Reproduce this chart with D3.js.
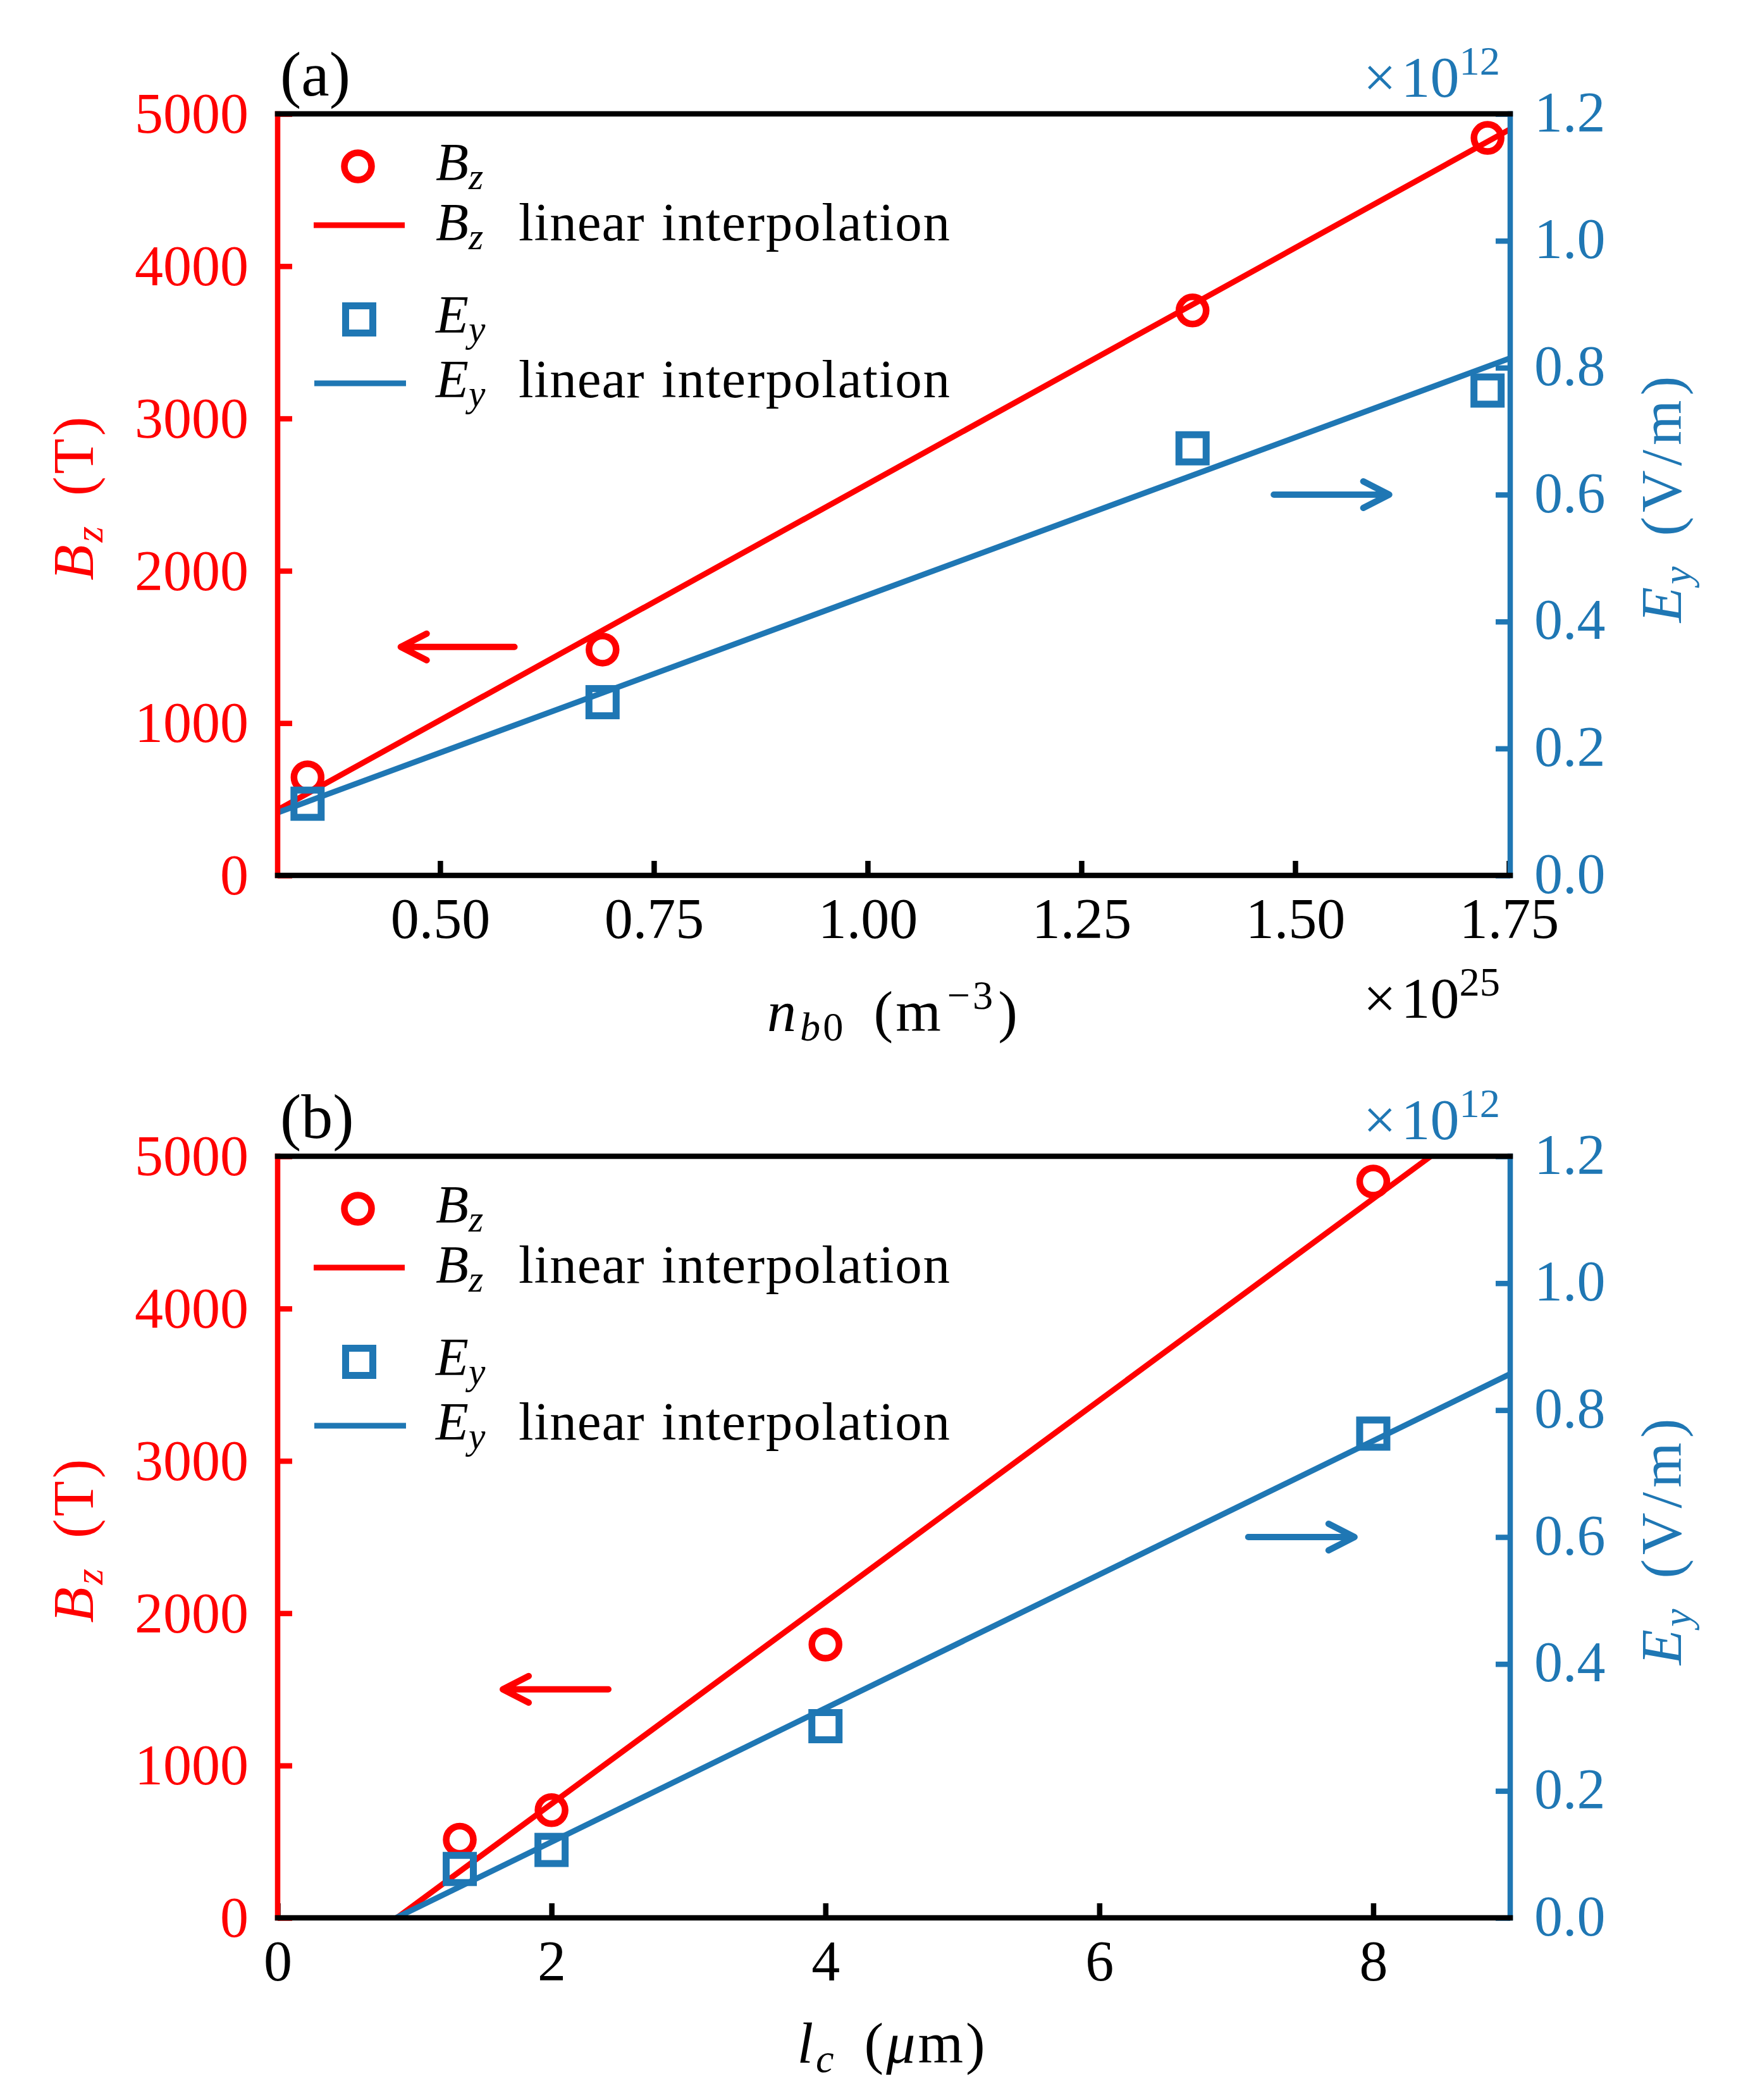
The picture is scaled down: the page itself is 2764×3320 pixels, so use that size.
<!DOCTYPE html>
<html>
<head>
<meta charset="utf-8">
<script src="https://cdn.jsdelivr.net/npm/d3@7"></script>
<style>
  body { margin: 0; background: #fff; }
  svg { display: block; }
  text { font-family: "Liberation Serif", "Times New Roman", serif; }
</style>
</head>
<body>
<svg id="fig" width="2764" height="3320"></svg>
<script>
// ---- data ----
// panel (a): beam density n_b0 (x 1e25 m^-3)
var nb0 = [0.345, 0.69, 1.38, 1.725];
var bzA = [644, 1483, 3709, 4842];          // T
var eyA = [0.113, 0.273, 0.673, 0.764];     // x 1e12 V/m
var bzFitA = [[0.31, 430], [1.7515, 4900]];
var eyFitA = [[0.31, 0.099], [1.7515, 0.815]];
var arrowsA = [[0.587, 0.454, 1500, "bz"], [1.475, 1.61, 0.6, "ey"]];

// panel (b): l_c (um)
var lc = [1.33, 2, 4, 8];
var bzB = [513, 707, 1794, 4834];
var eyB = [0.077, 0.107, 0.302, 0.763];
var bzFitB = [[0.87, 0], [8.42, 5000]];
var eyFitB = [[0.865, 0], [9, 0.857]];
var arrowsB = [[2.415, 1.644, 1500, "bz"], [7.087, 7.863, 0.6, "ey"]];

// ticks
var xTicksA = [0.5, 0.75, 1.0, 1.25, 1.5, 1.75];
var xTicksB = [0, 2, 4, 6, 8];
var bzTicks = [0, 1000, 2000, 3000, 4000, 5000];
var eyTicks = [0, 0.2, 0.4, 0.6, 0.8, 1.0, 1.2];

var RED = "#ff0000", BLUE = "#1f77b4";

var svg = d3.select("#fig"),
    left = 439, right = 2388, ph = 1204,
    tickFs = 90, labFs = 92, legFs = 85;

// text with italic / sub / sup pieces
function rich(t, parts, fs) {
  var shift = 0;
  parts.forEach(function(p) {
    var target = p.s === "sub" ? 0.16 * fs : p.s === "sup" ? -0.38 * fs : 0;
    var ts = t.append("tspan").text(p.t)
        .attr("font-size", p.s ? 0.7 * fs : fs)
        .attr("font-style", p.i ? "italic" : "normal")
        .attr("dy", target - shift);
    if (p.dx) ts.attr("dx", p.dx);
    if (p.x != null) ts.attr("x", p.x);
    if (p.ls) ts.attr("letter-spacing", p.ls);
    shift = target;
  });
  return t;
}

function drawPanel(c) {
  var top = c.top, bottom = top + ph;
  var x = d3.scaleLinear().domain(c.xDomain).range([left, right]);
  var yL = d3.scaleLinear().domain([0, 5000]).range([bottom, top]);
  var yR = d3.scaleLinear().domain([0, 1.2]).range([bottom, top]);

  var clipId = "clip" + c.id;
  svg.append("clipPath").attr("id", clipId)
    .append("rect").attr("x", left).attr("y", top)
    .attr("width", right - left).attr("height", ph);

  var plot = svg.append("g").attr("clip-path", "url(#" + clipId + ")");

  var lineL = d3.line().x(function(d) { return x(d[0]); }).y(function(d) { return yL(d[1]); });
  var lineR = d3.line().x(function(d) { return x(d[0]); }).y(function(d) { return yR(d[1]); });

  // B_z
  plot.append("path").datum(c.bzFit)
      .attr("fill", "none").attr("stroke", RED).attr("stroke-width", 9)
      .attr("d", lineL);
  plot.selectAll(".bz").data(c.xs).enter().append("circle")
      .attr("cx", function(d) { return x(d); })
      .attr("cy", function(d, i) { return yL(c.bz[i]); })
      .attr("r", 21.5)
      .attr("fill", "none").attr("stroke", RED).attr("stroke-width", 10.5);

  // E_y
  plot.append("path").datum(c.eyFit)
      .attr("fill", "none").attr("stroke", BLUE).attr("stroke-width", 9)
      .attr("d", lineR);
  plot.selectAll(".ey").data(c.xs).enter().append("rect")
      .attr("x", function(d) { return x(d) - 21.5; })
      .attr("y", function(d, i) { return yR(c.ey[i]) - 21.5; })
      .attr("width", 43).attr("height", 43)
      .attr("fill", "none").attr("stroke", BLUE).attr("stroke-width", 11);

  // arrows pointing at the matching axis
  c.arrows.forEach(function(a) {
    var y = a[3] === "bz" ? yL(a[2]) : yR(a[2]),
        x0 = x(a[0]), x1 = x(a[1]),
        s = x1 > x0 ? -1 : 1;
    svg.append("path")
      .attr("d", "M" + x0 + "," + y + "L" + x1 + "," + y +
                 "M" + (x1 + s * 41) + "," + (y - 21) + "L" + x1 + "," + y +
                 "L" + (x1 + s * 41) + "," + (y + 21))
      .attr("fill", "none")
      .attr("stroke", a[3] === "bz" ? RED : BLUE)
      .attr("stroke-width", 10)
      .attr("stroke-linecap", "round").attr("stroke-linejoin", "round");
  });

  // axes
  var gx = svg.append("g")
      .attr("transform", "translate(0," + bottom + ")")
      .call(d3.axisBottom(x).tickValues(c.xTicks).tickFormat(c.xFormat).tickSize(-23))
      .attr("font-family", null).attr("font-size", tickFs).attr("color", "#000");
  gx.selectAll("text").attr("y", 99).attr("dy", 0);

  var gl = svg.append("g")
      .attr("transform", "translate(" + left + ",0)")
      .call(d3.axisLeft(yL).tickValues(bzTicks).tickFormat(d3.format("d")).tickSize(-23).tickPadding(46))
      .attr("font-family", null).attr("font-size", tickFs).attr("color", RED);
  gl.selectAll("text").attr("dy", "0.33em");

  var gr = svg.append("g")
      .attr("transform", "translate(" + right + ",0)")
      .call(d3.axisRight(yR).tickValues(eyTicks).tickFormat(d3.format(".1f")).tickSize(-23).tickPadding(38))
      .attr("font-family", null).attr("font-size", tickFs).attr("color", BLUE);
  gr.selectAll("text").attr("dy", "0.3em");

  [gx, gl, gr].forEach(function(g) {
    g.select(".domain").remove();
    g.selectAll(".tick line").attr("stroke-width", 8.5);
  });

  // spines
  var sp = svg.append("g").attr("stroke-width", 8.5).attr("stroke-linecap", "square");
  sp.append("line").attr("x1", left).attr("x2", left).attr("y1", top).attr("y2", bottom).attr("stroke", RED);
  sp.append("line").attr("x1", right).attr("x2", right).attr("y1", top).attr("y2", bottom).attr("stroke", BLUE);
  sp.append("line").attr("x1", left).attr("x2", right).attr("y1", top).attr("y2", top).attr("stroke", "#000");
  sp.append("line").attr("x1", left).attr("x2", right).attr("y1", bottom).attr("y2", bottom).attr("stroke", "#000");

  // axis labels
  rich(svg.append("text").attr("text-anchor", "middle").attr("fill", RED)
         .attr("transform", "translate(147," + (top + 606) + ") rotate(-90)"),
       [{t: "B", i: 1, ls: 4}, {t: "z", i: 1, s: "sub"}, {t: "(T)", dx: 48, ls: 4}], labFs);
  rich(svg.append("text").attr("text-anchor", "middle").attr("fill", BLUE)
         .attr("transform", "translate(2658," + (top + 606) + ") rotate(-90)"),
       [{t: "E", i: 1, ls: 4}, {t: "y", i: 1, s: "sub"}, {t: "(V/m)", dx: 48, ls: 7}], labFs);
  rich(svg.append("text").attr("text-anchor", "middle").attr("fill", "#000")
         .attr("x", c.xLabelX).attr("y", bottom + c.xLabelDy),
       c.xLabel, labFs);

  // offset texts
  rich(svg.append("text").attr("text-anchor", "end").attr("fill", BLUE)
         .attr("x", 2372).attr("y", top - 27),
       [{t: "×", ls: 8}, {t: "10"}, {t: "12", s: "sup"}], labFs);
  if (c.xOffset) {
    rich(svg.append("text").attr("text-anchor", "end").attr("fill", "#000")
           .attr("x", 2372).attr("y", bottom + 225),
         [{t: "×", ls: 8}, {t: "10"}, {t: c.xOffset, s: "sup"}], labFs);
  }

  // panel tag
  svg.append("text").attr("x", 443).attr("y", top - 29)
      .attr("font-size", 100).attr("fill", "#000").text(c.tag);

  // legends
  var lx0 = 689;
  var leg = svg.append("g");
  leg.append("circle").attr("cx", 566).attr("cy", top + 83).attr("r", 21.5)
      .attr("fill", "none").attr("stroke", RED).attr("stroke-width", 10.5);
  leg.append("line").attr("x1", 496).attr("x2", 640).attr("y1", top + 176).attr("y2", top + 176)
      .attr("stroke", RED).attr("stroke-width", 9);
  leg.append("rect").attr("x", 568 - 21.5).attr("y", top + 325 - 21.5).attr("width", 43).attr("height", 43)
      .attr("fill", "none").attr("stroke", BLUE).attr("stroke-width", 11);
  leg.append("line").attr("x1", 497).attr("x2", 642).attr("y1", top + 426).attr("y2", top + 426)
      .attr("stroke", BLUE).attr("stroke-width", 9);

  var rows = [["B", "z", false, 105], ["B", "z", true, 200], ["E", "y", false, 346], ["E", "y", true, 448]];
  rows.forEach(function(r) {
    var parts = [{t: r[0], i: 1}, {t: r[1], i: 1, s: "sub"}];
    if (r[2]) parts.push({t: "linear", x: lx0 + 131, ls: 1}, {t: "interpolation", x: lx0 + 357, ls: 1.8});
    rich(leg.append("text").attr("x", lx0).attr("y", top + r[3]).attr("fill", "#000"), parts, legFs);
  });
}

drawPanel({
  id: "a", tag: "(a)", top: 180,
  xDomain: [0.31, 1.7515], xTicks: xTicksA, xFormat: d3.format(".2f"),
  xs: nb0, bz: bzA, ey: eyA, bzFit: bzFitA, eyFit: eyFitA, arrows: arrowsA,
  xLabel: [{t: "n", i: 1, ls: 6}, {t: "b", i: 1, s: "sub", ls: 4}, {t: "0", s: "sub"},
           {t: "(m", dx: 48, ls: 4}, {t: "−3", s: "sup", dx: 6, ls: 4}, {t: ")", dx: 4}],
  xLabelX: 1411, xLabelDy: 246, xOffset: "25"
});

drawPanel({
  id: "b", tag: "(b)", top: 1828,
  xDomain: [0, 9], xTicks: xTicksB, xFormat: d3.format("d"),
  xs: lc, bz: bzB, ey: eyB, bzFit: bzFitB, eyFit: eyFitB, arrows: arrowsB,
  xLabel: [{t: "l", i: 1, ls: 4}, {t: "c", i: 1, s: "sub"}, {t: "(", dx: 48, ls: 4},
           {t: "μ", i: 1, ls: 4}, {t: "m)", ls: 4}],
  xLabelX: 1411, xLabelDy: 229, xOffset: null
});
</script>
</body>
</html>
